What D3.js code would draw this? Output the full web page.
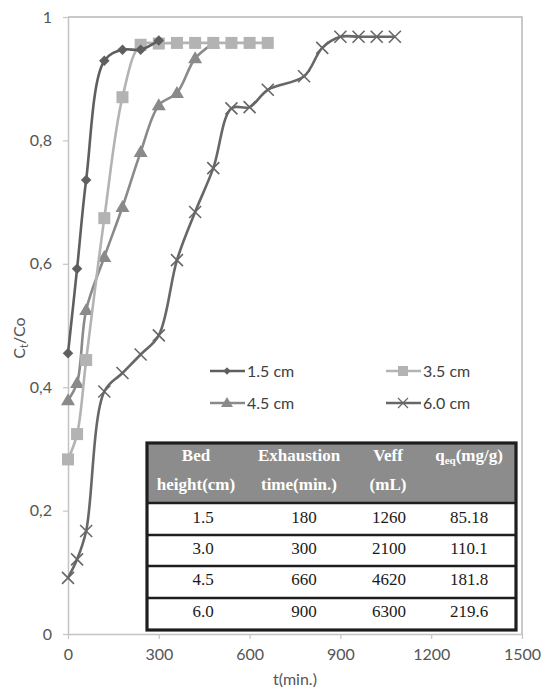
<!DOCTYPE html>
<html>
<head>
<meta charset="utf-8">
<script src="https://cdn.jsdelivr.net/npm/d3@7/dist/d3.min.js"></script>
<style>
  html, body { margin: 0; padding: 0; background: #fff; }
  svg { display: block; }
</style>
</head>
<body>
<svg id="chart" width="542" height="691"></svg>
<script>
// Breakthrough curves: Ct/Co versus time for four bed heights
const seriesNames = ["1.5 cm", "3.5 cm", "4.5 cm", "6.0 cm"];

const t15 = [0, 30, 60, 120, 180, 240, 300];
const c15 = [0.455, 0.592, 0.736, 0.929, 0.947, 0.947, 0.962];

const t35 = [0, 30, 60, 120, 180, 240, 300, 360, 420, 480, 540, 600, 660];
const c35 = [0.283, 0.324, 0.444, 0.674, 0.870, 0.955, 0.957, 0.958, 0.958, 0.958, 0.958, 0.958, 0.958];

const t45 = [0, 30, 60, 120, 180, 240, 300, 360, 420, 480];
const c45 = [0.379, 0.407, 0.525, 0.611, 0.692, 0.781, 0.857, 0.877, 0.933, 0.957];

const t60 = [0, 30, 60, 120, 180, 240, 300, 360, 420, 480, 540, 600, 660, 780, 840, 900, 960, 1020, 1080];
const c60 = [0.091, 0.121, 0.167, 0.393, 0.423, 0.453, 0.484, 0.606, 0.684, 0.755, 0.852, 0.854, 0.882, 0.904, 0.950, 0.968, 0.968, 0.968, 0.968];

const xTicks = [0, 300, 600, 900, 1200, 1500];
const yTicks = [0, 0.2, 0.4, 0.6, 0.8, 1];

// Summary table
const tableHeader1 = ["Bed", "Exhaustion", "Veff", "q"];
const tableHeader2 = ["height(cm)", "time(min.)", "(mL)", ""];
const bedHeight = ["1.5", "3.0", "4.5", "6.0"];
const exhaustionTime = ["180", "300", "660", "900"];
const veff = ["1260", "2100", "4620", "6300"];
const qeq = ["85.18", "110.1", "181.8", "219.6"];

const svg = d3.select("#chart");
const x = d3.scaleLinear().domain([0, 1500]).range([68, 522]);
const y = d3.scaleLinear().domain([0, 1]).range([634, 17]);

const axisColor = "#c4c4c4";
const textColor = "#555555";
const sansFont = "Lato, 'Open Sans', 'DejaVu Sans', sans-serif";
const serifFont = "'Liberation Serif', 'DejaVu Serif', serif";

// plot frame (top and right)
svg.append("path")
  .attr("d", `M${x(0)},${y(1)}H${x(1500)}V${y(0)}`)
  .attr("fill", "none").attr("stroke", "#b8b8b8").attr("stroke-width", 1.5);

// axes
const xAxis = svg.append("g").attr("transform", `translate(0,${y(0)})`)
  .call(d3.axisBottom(x).tickValues(xTicks).tickSize(5).tickSizeOuter(0).tickPadding(10)
    .tickFormat(d3.format("d")));
const yAxis = svg.append("g").attr("transform", `translate(${x(0)},0)`)
  .call(d3.axisLeft(y).tickValues(yTicks).tickSize(5).tickSizeOuter(0).tickPadding(11)
    .tickFormat(d => d === 0 || d === 1 ? String(d) : d3.format(".1f")(d).replace(".", ",")));
[xAxis, yAxis].forEach(g => {
  g.select(".domain").attr("stroke", axisColor).attr("stroke-width", 1.5);
  g.selectAll(".tick line").attr("stroke", axisColor).attr("stroke-width", 1.2);
  g.selectAll(".tick text").attr("fill", textColor)
    .style("font-family", sansFont).style("font-size", "16px");
});

// axis titles
svg.append("text").attr("x", x(750)).attr("y", 685)
  .attr("text-anchor", "middle").attr("fill", textColor)
  .style("font-family", sansFont).style("font-size", "16px").text("t(min.)");
const yt = svg.append("text").attr("transform", "translate(25,338) rotate(-90)")
  .attr("text-anchor", "middle").attr("fill", textColor)
  .style("font-family", sansFont).style("font-size", "16px");
yt.append("tspan").text("C");
yt.append("tspan").attr("dy", 3).style("font-size", "11px").text("t");
yt.append("tspan").attr("dy", -3).text("/Co");

// series
const series = [
  { name: seriesNames[0], t: t15, c: c15, color: "#5f5f5f", marker: "diamond" },
  { name: seriesNames[1], t: t35, c: c35, color: "#b3b3b3", marker: "square" },
  { name: seriesNames[2], t: t45, c: c45, color: "#8a8a8a", marker: "triangle" },
  { name: seriesNames[3], t: t60, c: c60, color: "#676767", marker: "cross" }
];

const line = d3.line().x(d => x(d[0])).y(d => y(d[1])).curve(d3.curveCatmullRom.alpha(0.5));

function drawMarker(g, type, cx, cy, color) {
  if (type === "diamond") {
    g.append("path").attr("d", d3.symbol(d3.symbolDiamond2, 70)())
      .attr("transform", `translate(${cx},${cy})`).attr("fill", color);
  } else if (type === "square") {
    g.append("rect").attr("x", cx - 6).attr("y", cy - 6).attr("width", 12).attr("height", 12).attr("fill", color);
  } else if (type === "triangle") {
    g.append("path").attr("d", `M${cx},${cy - 7}L${cx + 7},${cy + 5}L${cx - 7},${cy + 5}Z`).attr("fill", color);
  } else {
    g.append("path").attr("d", `M${cx - 6},${cy - 6}L${cx + 6},${cy + 6}M${cx - 6},${cy + 6}L${cx + 6},${cy - 6}`)
      .attr("stroke", color).attr("stroke-width", 1.6).attr("fill", "none");
  }
}

// draw in an order that keeps the light series beneath the dark one
[series[3], series[2], series[1], series[0]].forEach(s => {
  const pts = s.t.map((t, i) => [t, s.c[i]]);
  const g = svg.append("g");
  g.append("path").datum(pts).attr("d", line)
    .attr("fill", "none").attr("stroke", s.color).attr("stroke-width", 2.6);
  pts.forEach(p => drawMarker(g, s.marker, x(p[0]), y(p[1]), s.color));
});

// legend
const legendPos = [[210, 371], [386, 371], [210, 403], [386, 403]];
series.forEach((s, i) => {
  const [lx, ly] = legendPos[i];
  const g = svg.append("g");
  g.append("line").attr("x1", lx).attr("x2", lx + 35).attr("y1", ly).attr("y2", ly)
    .attr("stroke", s.color).attr("stroke-width", 2.6);
  const cx = lx + 17;
  if (s.marker === "diamond") {
    g.append("path").attr("d", d3.symbol(d3.symbolDiamond2, 36)()).attr("transform", `translate(${cx},${ly})`).attr("fill", s.color);
  } else if (s.marker === "square") {
    g.append("rect").attr("x", cx - 5).attr("y", ly - 5).attr("width", 10).attr("height", 10).attr("fill", s.color);
  } else if (s.marker === "triangle") {
    g.append("path").attr("d", `M${cx},${ly - 6}L${cx + 6},${ly + 4}L${cx - 6},${ly + 4}Z`).attr("fill", s.color);
  } else {
    g.append("path").attr("d", `M${cx - 5},${ly - 5}L${cx + 5},${ly + 5}M${cx - 5},${ly + 5}L${cx + 5},${ly - 5}`)
      .attr("stroke", s.color).attr("stroke-width", 1.2);
  }
  g.append("text").attr("x", lx + 37).attr("y", ly + 6).attr("fill", "#404040")
    .style("font-family", sansFont).style("font-size", "16px").text(s.name);
});

// table
const tb = { x0: 147, x1: 516, top: 443, head: 503, rows: [503, 535, 566, 598, 630] };
const tg = svg.append("g");
tg.append("rect").attr("x", tb.x0).attr("y", tb.top).attr("width", tb.x1 - tb.x0).attr("height", tb.rows[4] - tb.top)
  .attr("fill", "#fff");
tg.append("rect").attr("x", tb.x0).attr("y", tb.top).attr("width", tb.x1 - tb.x0).attr("height", tb.head - tb.top)
  .attr("fill", "#8c8c8c");
tb.rows.slice(0, 4).forEach(ry => {
  tg.append("line").attr("x1", tb.x0).attr("x2", tb.x1).attr("y1", ry).attr("y2", ry)
    .attr("stroke", "#1e1e1e").attr("stroke-width", 2.6);
});
tg.append("rect").attr("x", tb.x0).attr("y", tb.top).attr("width", tb.x1 - tb.x0).attr("height", tb.rows[4] - tb.top)
  .attr("fill", "none").attr("stroke", "#1e1e1e").attr("stroke-width", 3.2);

const headX = [196, 299, 388, 469];
const headStyle = t => t.attr("fill", "#fff").attr("text-anchor", "middle").style("font-family", serifFont)
  .style("font-size", "17px").style("font-weight", "bold");
tableHeader1.forEach((h, i) => {
  const t = headStyle(tg.append("text").attr("x", headX[i]).attr("y", 461));
  if (h === "q") {
    t.append("tspan").text("q");
    t.append("tspan").attr("dy", 3).style("font-size", "11px").text("eq");
    t.append("tspan").attr("dy", -3).text("(mg/g)");
  } else {
    t.text(h);
  }
});
tableHeader2.forEach((h, i) => {
  if (!h) return;
  headStyle(tg.append("text").attr("x", headX[i]).attr("y", 490)).text(h);
});

const colX = [203, 304, 389, 469];
const cols = [bedHeight, exhaustionTime, veff, qeq];
const rowTextY = [523, 554, 585, 617];
bedHeight.forEach((_, r) => {
  cols.forEach((col, c) => {
    tg.append("text").attr("x", colX[c]).attr("y", rowTextY[r]).attr("text-anchor", "middle")
      .attr("fill", "#1a1a1a").style("font-family", serifFont).style("font-size", "17px").text(col[r]);
  });
});
</script>
</body>
</html>
